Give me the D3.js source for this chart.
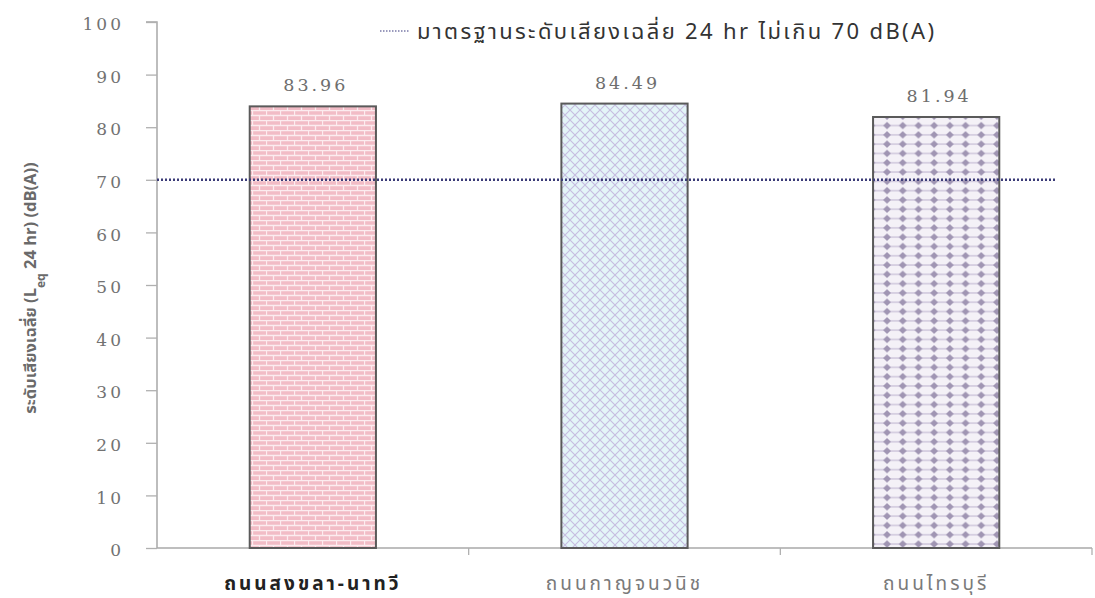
<!DOCTYPE html>
<html>
<head>
<meta charset="utf-8">
<script src="https://cdn.jsdelivr.net/npm/d3@7"></script>
<style>
  html, body { margin: 0; padding: 0; background: #fff; }
  svg { display: block; }
</style>
</head>
<body>
<svg id="chart" width="1095" height="598"></svg>
<script>
// Average 24-hour equivalent noise level per road
const roads = ["ถนนสงขลา-นาทวี", "ถนนกาญจนวนิช", "ถนนไทรบุรี"];
const leq24 = [83.96, 84.49, 81.94];
const standardLevel = 70;
const yTicks = [0, 10, 20, 30, 40, 50, 60, 70, 80, 90, 100];
const legendText = "มาตรฐานระดับเสียงเฉลี่ย 24 hr ไม่เกิน 70 dB(A)";
const patternIds = ["brick", "cross", "diamond"];

const svg = d3.select("#chart");
const plotLeft = 157, plotRight = 1092, plotTop = 22, plotBottom = 548;

const x = d3.scaleBand().domain(roads).range([plotLeft, plotRight]).padding(0);
const y = d3.scaleLinear().domain([0, 100]).range([plotBottom, plotTop]);
const barW = x.bandwidth() * 0.405;

// ---- fill patterns ----
const defs = svg.append("defs");

const brick = defs.append("pattern").attr("id", "brick")
  .attr("patternUnits", "userSpaceOnUse").attr("width", 14).attr("height", 10);
brick.append("rect").attr("width", 14).attr("height", 10).attr("fill", "#f2bcc6");
brick.append("path")
  .attr("d", "M0,0.5H14M0,5.5H14M0.5,0V5M7.5,5V10")
  .attr("stroke", "#fcecef").attr("stroke-width", 1.3).attr("fill", "none");

const cross = defs.append("pattern").attr("id", "cross")
  .attr("patternUnits", "userSpaceOnUse").attr("width", 10).attr("height", 10);
cross.append("rect").attr("width", 10).attr("height", 10).attr("fill", "#e4f5f8");
cross.append("path")
  .attr("d", "M0,0L10,10M10,0L0,10")
  .attr("stroke", "#c7bde0").attr("stroke-width", 1.1).attr("fill", "none");

const diamond = defs.append("pattern").attr("id", "diamond")
  .attr("patternUnits", "userSpaceOnUse").attr("width", 15.7).attr("height", 9.3);
diamond.append("rect").attr("width", 15.7).attr("height", 9.3).attr("fill", "#f4f1f7");
diamond.append("path").attr("d", "M0,4.65H15.7")
  .attr("stroke", "#cdc4da").attr("stroke-width", 1.4);
diamond.append("path")
  .attr("d", "M7.85,1L11.8,4.65L7.85,8.3L3.9,4.65Z")
  .attr("fill", "#a095b3");

// ---- y axis ----
const yAxis = d3.axisLeft(y).tickValues(yTicks).tickSize(11).tickPadding(22)
  .tickFormat(d3.format("d"));
const gy = svg.append("g").attr("transform", `translate(${plotLeft},0)`).call(yAxis);
gy.select(".domain").attr("stroke", "#a8a8a8").attr("stroke-width", 1.5)
  .attr("d", `M-11,${plotTop}H0V${plotBottom}`);
gy.selectAll(".tick line").attr("stroke", "#b0b0b0").attr("stroke-width", 1.3);
gy.selectAll(".tick text")
  .attr("fill", "#727272")
  .attr("font-family", "'DejaVu Serif', serif")
  .attr("font-size", 17)
  .attr("letter-spacing", 3)
  .attr("dy", "0.45em");

// ---- x axis (ticks at category boundaries) ----
const gx = svg.append("g");
gx.append("line").attr("x1", plotLeft).attr("x2", plotRight)
  .attr("y1", y(0)).attr("y2", y(0))
  .attr("stroke", "#a8a8a8").attr("stroke-width", 1.5);
const bounds = roads.map(r => x(r)).concat([x(roads[roads.length - 1]) + x.bandwidth()]);
gx.selectAll("line.bt").data(bounds.slice(1)).join("line").attr("class", "bt")
  .attr("x1", d => d).attr("x2", d => d)
  .attr("y1", y(0)).attr("y2", y(0) + 7)
  .attr("stroke", "#b0b0b0").attr("stroke-width", 1.3);

gx.selectAll("text.cat").data(roads).join("text").attr("class", "cat")
  .attr("x", d => x(d) + x.bandwidth() / 2)
  .attr("y", 590)
  .attr("text-anchor", "middle")
  .attr("font-family", "'Noto Sans Thai', 'Noto Sans', 'DejaVu Sans', sans-serif")
  .attr("font-size", 19)
  .attr("letter-spacing", 3)
  .attr("font-weight", (d, i) => i === 0 ? "bold" : "normal")
  .attr("fill", (d, i) => i === 0 ? "#222" : "#7a7a7a")
  .text(d => d);

// ---- bars ----
const bars = roads.map((r, i) => ({ road: r, value: leq24[i], fill: patternIds[i] }));
svg.append("g").selectAll("rect").data(bars).join("rect")
  .attr("x", d => x(d.road) + (x.bandwidth() - barW) / 2)
  .attr("y", d => y(d.value))
  .attr("width", barW)
  .attr("height", d => y(0) - y(d.value))
  .attr("fill", d => `url(#${d.fill})`)
  .attr("stroke", "#5a5a5a")
  .attr("stroke-width", 2);

// value labels
svg.append("g").selectAll("text").data(bars).join("text")
  .attr("x", d => x(d.road) + x.bandwidth() / 2 + 3)
  .attr("y", d => y(d.value) - 15)
  .attr("text-anchor", "middle")
  .attr("font-family", "'DejaVu Serif', serif")
  .attr("font-size", 17.5)
  .attr("letter-spacing", 3)
  .attr("fill", "#6e6e6e")
  .text(d => d.value.toFixed(2));

// ---- standard level line ----
svg.append("line")
  .attr("x1", plotLeft).attr("x2", 1057)
  .attr("y1", y(standardLevel)).attr("y2", y(standardLevel))
  .attr("stroke", "#3c3c78").attr("stroke-width", 2.5)
  .attr("stroke-dasharray", "2,2");

// ---- legend ----
const lg = svg.append("g").attr("transform", "translate(380,31)");
lg.append("line").attr("x1", 0).attr("x2", 30).attr("y1", 0).attr("y2", 0)
  .attr("stroke", "#7a7aa8").attr("stroke-width", 1.5).attr("stroke-dasharray", "1.5,1.5");
lg.append("text").attr("x", 37).attr("y", 7.5)
  .attr("font-family", "'Noto Sans Thai', 'Noto Sans', 'DejaVu Sans', sans-serif")
  .attr("font-size", 22)
  .attr("textLength", 517)
  .attr("lengthAdjust", "spacing")
  .attr("fill", "#333")
  .text(legendText);

// ---- y axis title ----
const yt = svg.append("text")
  .attr("transform", "translate(36,288) rotate(-90)")
  .attr("text-anchor", "middle")
  .attr("font-family", "'Noto Sans Thai', 'Noto Sans', 'DejaVu Sans', sans-serif")
  .attr("font-size", 16.5)
  .attr("font-weight", "bold")
  .attr("fill", "#6a6a6a");
yt.append("tspan").text("ระดับเสียงเฉลี่ย (L");
yt.append("tspan").attr("baseline-shift", "sub").attr("font-size", 12).text("eq");
yt.append("tspan").text(" 24 hr) (dB(A))");
</script>
</body>
</html>
